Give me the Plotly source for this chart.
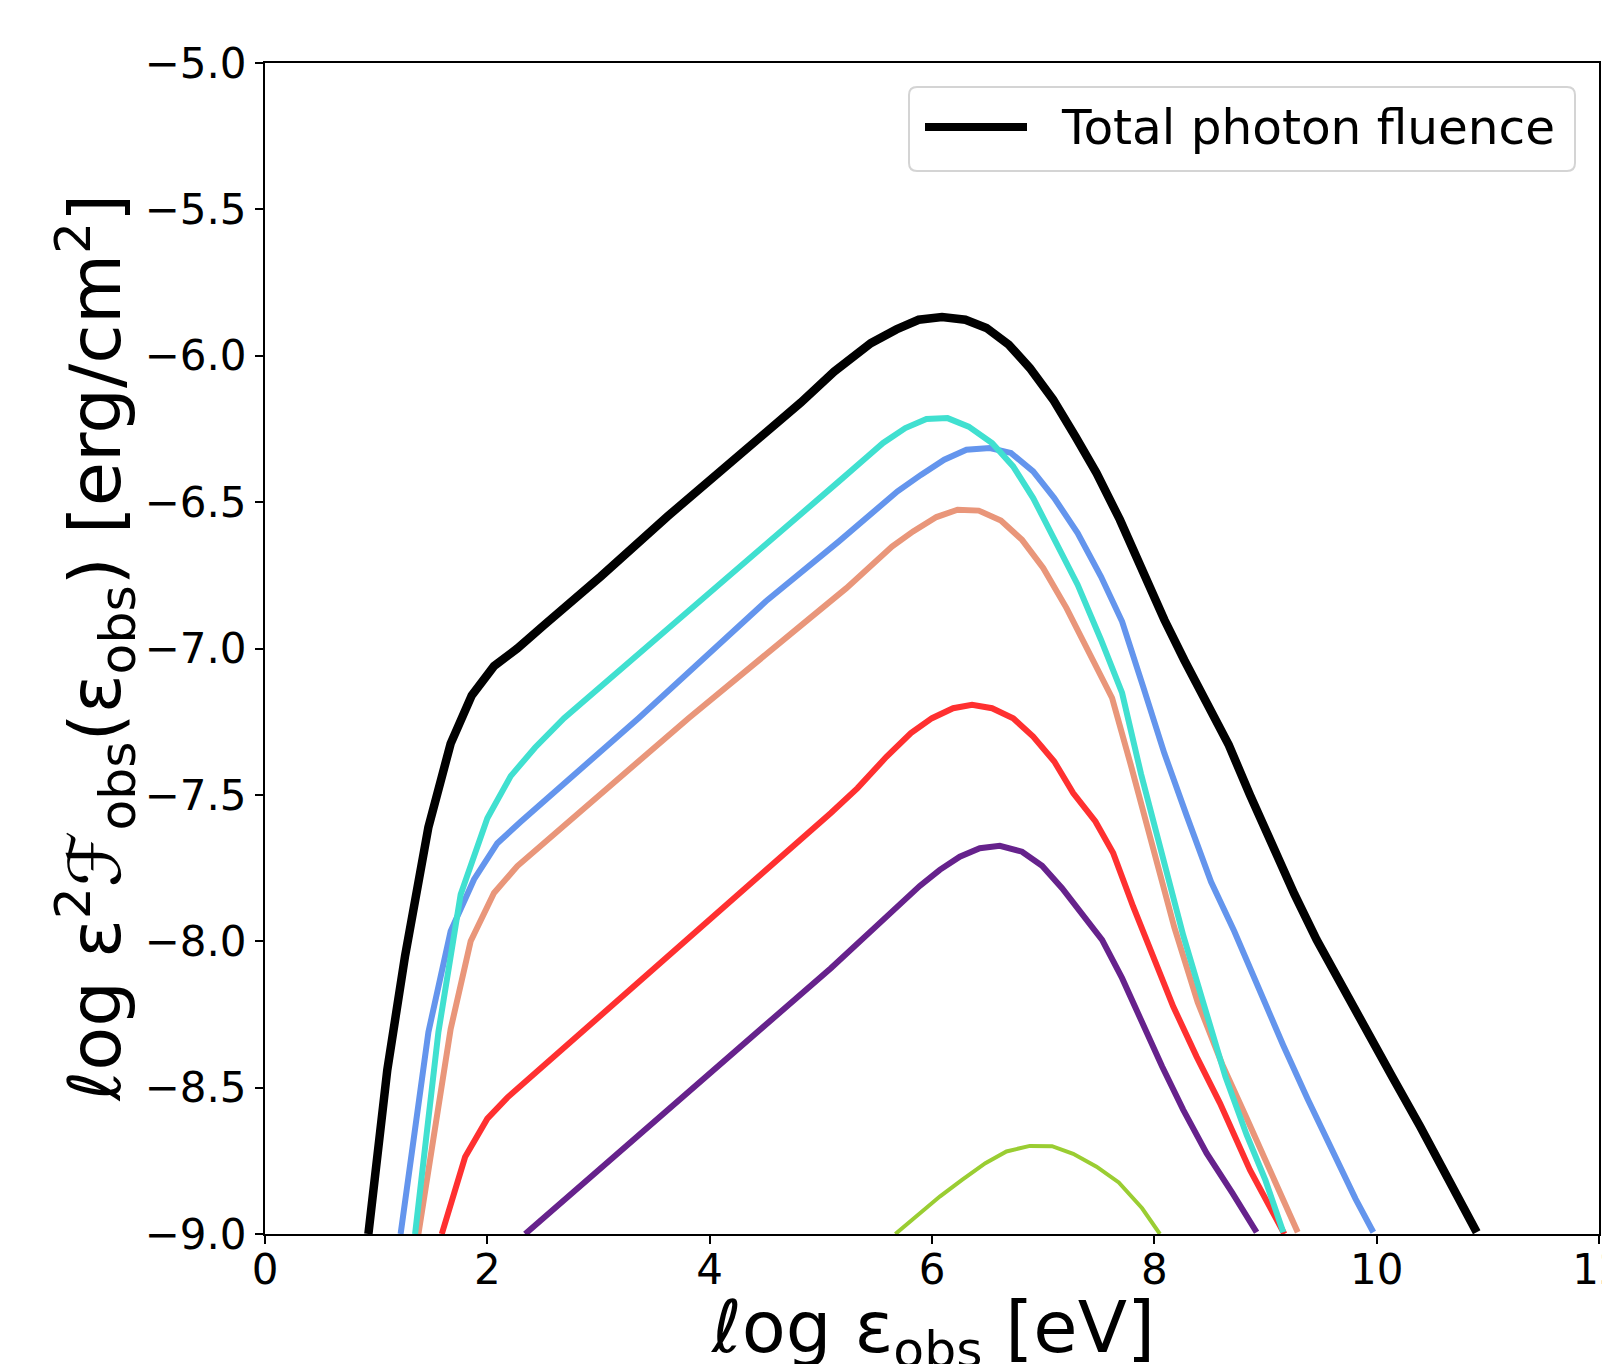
import plotly.graph_objects as go

# ---- data (log10 energy [eV], log10 e^2 F [erg/cm^2]) ----
total_x = [0.93, 1.10, 1.26, 1.47, 1.67, 1.86, 2.06, 2.27, 2.51, 3.02, 3.62, 4.22, 4.82, 5.12, 5.26,
           5.45, 5.68, 5.88, 6.09, 6.30, 6.49, 6.69, 6.88, 7.09, 7.29, 7.48, 7.69, 7.88, 8.09, 8.27,
           8.46, 8.67, 8.86, 9.05, 9.26, 9.46, 9.68, 9.90, 10.14, 10.39, 10.64, 10.90]
total_y = [-9.0, -8.44, -8.05, -7.61, -7.325, -7.16, -7.06, -7.0, -6.92, -6.754, -6.549, -6.355, -6.16,
           -6.054, -6.01, -5.957, -5.91, -5.877, -5.868, -5.877, -5.905, -5.962, -6.042, -6.150, -6.276,
           -6.401, -6.56, -6.731, -6.902, -7.04, -7.18, -7.33, -7.50, -7.669, -7.839, -7.995, -8.151,
           -8.307, -8.463, -8.632, -8.81, -8.994]

turq_x = [1.35, 1.56, 1.76, 2.00, 2.21, 2.43, 2.69, 3.62, 4.55, 4.82, 5.16, 5.42, 5.56, 5.76, 5.95, 6.14,
          6.33, 6.54, 6.73, 6.91, 7.10, 7.31, 7.52, 7.71, 7.88, 8.07, 8.26, 8.45, 8.64, 8.83, 9.00, 9.16]
turq_y = [-9.0, -8.31, -7.84, -7.58, -7.436, -7.338, -7.238, -6.936, -6.629, -6.54, -6.43, -6.344,
          -6.298, -6.247, -6.216, -6.213, -6.242, -6.298, -6.378, -6.486, -6.623, -6.782, -6.97, -7.152,
          -7.428, -7.712, -7.98, -8.222, -8.463, -8.661, -8.817, -8.994]

blue_x = [1.22, 1.47, 1.67, 1.88, 2.09, 2.30, 3.36, 4.52, 5.16, 5.69, 5.90, 6.11, 6.31, 6.52, 6.71,
          6.91, 7.10, 7.31, 7.52, 7.71, 7.90, 8.09, 8.29, 8.51, 8.72, 8.94, 9.16, 9.38, 9.59, 9.81, 9.97]
blue_y = [-9.0, -8.31, -7.966, -7.789, -7.665, -7.592, -7.238, -6.834, -6.635, -6.463, -6.407,
          -6.355, -6.321, -6.315, -6.332, -6.395, -6.486, -6.606, -6.754, -6.908, -7.131, -7.358, -7.57,
          -7.797, -7.967, -8.165, -8.356, -8.54, -8.71, -8.88, -8.994]

salmon_x = [1.38, 1.67, 1.85, 2.06, 2.27, 3.81, 4.82, 5.23, 5.64, 5.83, 6.04, 6.23, 6.42, 6.62, 6.81, 7.00,
            7.21, 7.41, 7.62, 7.79, 7.98, 8.18, 8.39, 8.61, 8.83, 9.05, 9.29]
salmon_y = [-9.0, -8.30, -8.0, -7.835, -7.743, -7.238, -6.922, -6.794, -6.652, -6.60, -6.551, -6.526,
            -6.529, -6.563, -6.629, -6.725, -6.862, -7.016, -7.169, -7.40, -7.669, -7.953, -8.208, -8.42,
            -8.604, -8.788, -8.994]

red_x = [1.59, 1.80, 2.00, 2.18, 5.09, 5.33, 5.59, 5.81, 6.00, 6.19, 6.36, 6.54, 6.73, 6.91, 7.10, 7.27,
         7.47, 7.63, 7.81, 7.99, 8.17, 8.38, 8.59, 8.86, 9.11, 9.17]
red_y = [-9.0, -8.737, -8.606, -8.534, -7.562, -7.477, -7.37, -7.289, -7.238, -7.204, -7.192, -7.204,
         -7.238, -7.301, -7.386, -7.494, -7.591, -7.699, -7.882, -8.052, -8.223, -8.394, -8.553, -8.781,
         -8.958, -9.0]

purple_x = [2.34, 5.09, 5.48, 5.69, 5.89, 6.07, 6.25, 6.43, 6.61, 6.81, 6.99, 7.17, 7.35, 7.53, 7.71,
            7.89, 8.07, 8.26, 8.47, 8.70, 8.92]
purple_y = [-9.0, -8.092, -7.955, -7.882, -7.811, -7.756, -7.711, -7.682, -7.674, -7.694, -7.742, -7.819,
            -7.906, -7.995, -8.126, -8.28, -8.428, -8.576, -8.724, -8.859, -8.994]

green_x = [5.67, 5.87, 6.07, 6.27, 6.48, 6.67, 6.88, 7.08, 7.27, 7.48, 7.68, 7.89, 8.05]
green_y = [-9.0, -8.935, -8.872, -8.815, -8.758, -8.718, -8.699, -8.70, -8.726, -8.77, -8.824, -8.912, -9.0]

x_ticks = [0, 2, 4, 6, 8, 10, 12]
y_ticks = [-9.0, -8.5, -8.0, -7.5, -7.0, -6.5, -6.0, -5.5, -5.0]
y_tick_text = ["\u22129.0", "\u22128.5", "\u22128.0", "\u22127.5", "\u22127.0", "\u22126.5", "\u22126.0",
               "\u22125.5", "\u22125.0"]
legend_label = "Total photon fluence"
x_title = "<i>\u2113</i>og \u03b5<sub>obs</sub> [eV]"
y_title = "<i>\u2113</i>og \u03b5<sup>2</sup>\u2131<sub>obs</sub>(\u03b5<sub>obs</sub>) [erg/cm<sup>2</sup>]"

FONT = "DejaVu Sans"
W, H = 1602, 1364
ML, MR, MT, MB = 265, 3, 63, 130
PW, PH = W - ML - MR, H - MT - MB


def px_to_paper(px, py):
    return (px - ML) / PW, (H - MB - py) / PH


fig = go.Figure()

components = [
    (green_x, green_y, "#9ACD32", 4),
    (purple_x, purple_y, "#66228C", 6),
    (red_x, red_y, "#FF3030", 6),
    (salmon_x, salmon_y, "#E9967A", 6),
    (blue_x, blue_y, "#6495ED", 6),
    (turq_x, turq_y, "#40E0D0", 6),
]
for xs, ys, col, w in components:
    fig.add_trace(go.Scatter(x=xs, y=ys, mode="lines", line=dict(color=col, width=w),
                             showlegend=False, hoverinfo="skip"))

fig.add_trace(go.Scatter(x=total_x, y=total_y, mode="lines", name=legend_label,
                         line=dict(color="black", width=8.5), showlegend=False))

axis_common = dict(showline=True, linecolor="black", linewidth=2, mirror=True,
                   ticks="outside", ticklen=8, tickwidth=2, tickcolor="black",
                   showgrid=False, zeroline=False, automargin=False,
                   ticklabeloverflow="allow",
                   tickfont=dict(family=FONT, size=42, color="black"))

fig.update_xaxes(range=[0, 12], tickvals=x_ticks, ticktext=[str(v) for v in x_ticks],
                 ticklabelstandoff=-10, **axis_common)
fig.update_yaxes(range=[-9.0, -5.0], tickvals=y_ticks, ticktext=y_tick_text, **axis_common)

# legend box (drawn by hand so the sample line length / padding match)
bx0, by0 = px_to_paper(909, 87)
bx1, by1 = px_to_paper(1575, 171)
rx, ry = 8 / PW, 8 / PH
path = (f"M{bx0+rx},{by0} L{bx1-rx},{by0} Q{bx1},{by0} {bx1},{by0-ry} "
        f"L{bx1},{by1+ry} Q{bx1},{by1} {bx1-rx},{by1} L{bx0+rx},{by1} Q{bx0},{by1} {bx0},{by1+ry} "
        f"L{bx0},{by0-ry} Q{bx0},{by0} {bx0+rx},{by0} Z")
fig.add_shape(type="path", path=path, xref="paper", yref="paper",
              line=dict(color="#d4d4d4", width=2), fillcolor="rgba(255,255,255,0.8)")
lx0, ly = px_to_paper(925, 127)
lx1, _ = px_to_paper(1027, 127)
fig.add_shape(type="line", xref="paper", yref="paper", x0=lx0, x1=lx1, y0=ly, y1=ly,
              line=dict(color="black", width=8))
tx, _ = px_to_paper(1059, 127)
fig.add_annotation(text=legend_label, xref="paper", yref="paper", x=tx, y=ly,
                   xanchor="left", yanchor="middle", showarrow=False,
                   font=dict(family=FONT, size=48.5, color="black"))

# axis titles
_, xty = px_to_paper(0, 1283)
fig.add_annotation(text=x_title, xref="paper", yref="paper", x=0.5, y=xty,
                   xanchor="center", yanchor="top", showarrow=False,
                   font=dict(family=FONT, size=72, color="black"))
ytx, _ = px_to_paper(94, 651)
fig.add_annotation(text=y_title, xref="paper", yref="paper", x=ytx, y=0.5,
                   xanchor="center", yanchor="middle", textangle=-90, showarrow=False,
                   font=dict(family=FONT, size=72, color="black"))

fig.update_layout(
    width=W, height=H,
    margin=dict(l=ML, r=MR, t=MT, b=MB),
    paper_bgcolor="white", plot_bgcolor="white",
    font=dict(family=FONT, color="black"),
    showlegend=False,
)

fig.write_html("out.html", config={"displayModeBar": False},
               post_script="document.body.style.margin='0px';document.body.style.overflow='hidden';")
